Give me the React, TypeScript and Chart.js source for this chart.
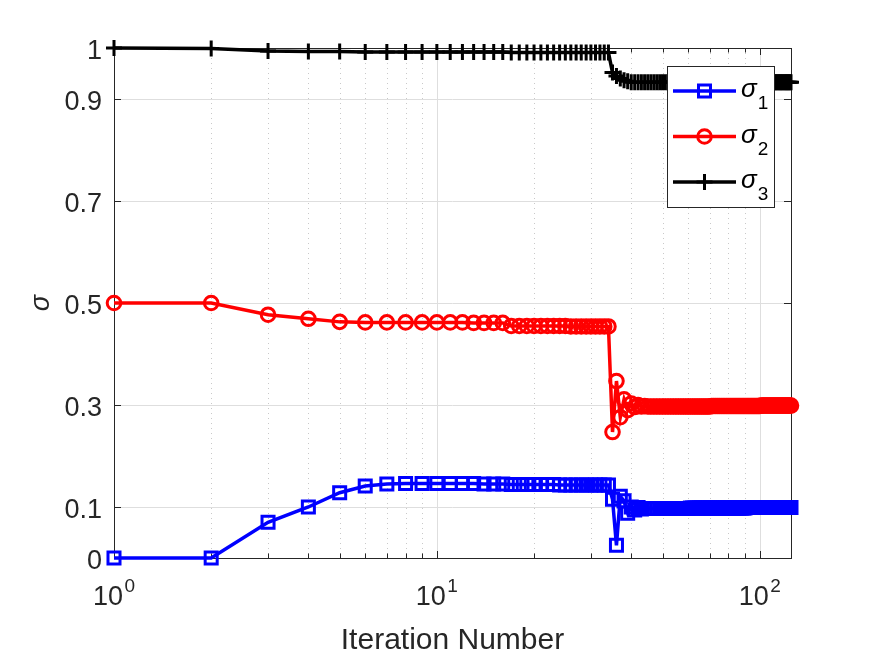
import React, { useEffect, useRef } from 'react';
import { Chart, registerables, Plugin } from 'chart.js';

Chart.register(...registerables);

// iteration index 1..125
const iterations: number[] = Array.from({ length: 125 }, (_, i) => i + 1);

// sigma_1 (blue, squares)
const sigma1: number[] = [
  0.000, 0.000, 0.070, 0.100, 0.128, 0.141, 0.145, 0.146, 0.146, 0.146,
  0.146, 0.146, 0.146, 0.145, 0.145, 0.145, 0.144, 0.144, 0.144, 0.144,
  0.144, 0.144, 0.144, 0.143, 0.143, 0.143, 0.143, 0.143, 0.143, 0.143,
  0.143, 0.143, 0.143, 0.143, 0.115, 0.025, 0.121, 0.112, 0.088, 0.100,
  0.094, 0.099, 0.096, 0.097, 0.097, 0.097, 0.097, 0.097, 0.097, 0.097,
  0.097, 0.097, 0.097, 0.097, 0.097, 0.097, 0.097, 0.097, 0.097, 0.097,
  0.098, 0.098, 0.098, 0.098, 0.098, 0.098, 0.098, 0.098, 0.098, 0.098,
  0.098, 0.098, 0.098, 0.098, 0.098, 0.098, 0.098, 0.098, 0.098, 0.098,
  0.098, 0.098, 0.098, 0.098, 0.098, 0.098, 0.098, 0.098, 0.098, 0.098,
  0.099, 0.099, 0.099, 0.099, 0.099, 0.099, 0.099, 0.099, 0.099, 0.099,
  0.099, 0.099, 0.099, 0.099, 0.099, 0.099, 0.099, 0.099, 0.099, 0.099,
  0.099, 0.099, 0.099, 0.099, 0.099, 0.099, 0.099, 0.099, 0.099, 0.099,
  0.099, 0.099, 0.099, 0.099, 0.099,
];

// sigma_2 (red, circles)
const sigma2: number[] = [
  0.500, 0.500, 0.477, 0.469, 0.463, 0.462, 0.462, 0.462, 0.462, 0.462,
  0.462, 0.462, 0.461, 0.461, 0.461, 0.461, 0.455, 0.455, 0.455, 0.455,
  0.455, 0.455, 0.455, 0.455, 0.455, 0.454, 0.454, 0.454, 0.454, 0.454,
  0.454, 0.454, 0.454, 0.454, 0.247, 0.347, 0.276, 0.311, 0.290, 0.303,
  0.296, 0.300, 0.297, 0.298, 0.297, 0.297, 0.297, 0.297, 0.297, 0.297,
  0.297, 0.297, 0.297, 0.297, 0.297, 0.297, 0.297, 0.297, 0.297, 0.297,
  0.297, 0.297, 0.297, 0.297, 0.297, 0.297, 0.297, 0.297, 0.297, 0.297,
  0.298, 0.298, 0.298, 0.298, 0.298, 0.298, 0.298, 0.298, 0.298, 0.298,
  0.298, 0.298, 0.298, 0.298, 0.298, 0.298, 0.298, 0.298, 0.298, 0.298,
  0.298, 0.298, 0.298, 0.298, 0.298, 0.298, 0.298, 0.298, 0.298, 0.298,
  0.299, 0.299, 0.299, 0.299, 0.299, 0.299, 0.299, 0.299, 0.299, 0.299,
  0.299, 0.299, 0.299, 0.299, 0.299, 0.299, 0.299, 0.299, 0.299, 0.299,
  0.299, 0.299, 0.299, 0.299, 0.299,
];

// sigma_3 (black, plus)
const sigma3: number[] = [
  1.000, 0.999, 0.994, 0.993, 0.993, 0.992, 0.992, 0.992, 0.992, 0.992,
  0.992, 0.992, 0.992, 0.992, 0.992, 0.992, 0.991, 0.991, 0.991, 0.991,
  0.991, 0.991, 0.991, 0.991, 0.991, 0.991, 0.991, 0.991, 0.991, 0.991,
  0.991, 0.991, 0.991, 0.991, 0.952, 0.945, 0.940, 0.937, 0.935, 0.933,
  0.933, 0.933, 0.933, 0.933, 0.933, 0.933, 0.933, 0.933, 0.933, 0.933,
  0.933, 0.933, 0.933, 0.933, 0.933, 0.933, 0.933, 0.933, 0.933, 0.933,
  0.933, 0.933, 0.933, 0.933, 0.933, 0.933, 0.933, 0.933, 0.933, 0.933,
  0.933, 0.933, 0.933, 0.933, 0.933, 0.933, 0.933, 0.933, 0.933, 0.933,
  0.933, 0.933, 0.933, 0.933, 0.933, 0.933, 0.933, 0.933, 0.933, 0.933,
  0.933, 0.933, 0.933, 0.933, 0.933, 0.933, 0.933, 0.933, 0.933, 0.933,
  0.933, 0.933, 0.933, 0.933, 0.933, 0.933, 0.933, 0.933, 0.933, 0.933,
  0.933, 0.933, 0.933, 0.933, 0.933, 0.933, 0.933, 0.933, 0.933, 0.933,
  0.933, 0.933, 0.933, 0.933, 0.933,
];

const yTicks = [0, 0.1, 0.3, 0.5, 0.7, 0.9, 1];
const yTickLabels = ['0', '0.1', '0.3', '0.5', '0.7', '0.9', '1'];
const yGrid = [0.1, 0.3, 0.5, 0.7, 0.9];
const xDecades = [1, 10, 100];
const xExponents = ['0', '1', '2'];
const xMin = 1;
const xMax = 125;

const seriesNames = ['1', '2', '3'];
const seriesColors = ['#0000ff', '#ff0000', '#000000'];

const AXIS = '#262626';
const FONT = "'Liberation Sans', Arial, Helvetica, sans-serif";

const drawMarker = (ctx: CanvasRenderingContext2D, kind: number, x: number, y: number, color: string) => {
  ctx.save();
  ctx.strokeStyle = color;
  ctx.lineWidth = 3;
  ctx.beginPath();
  if (kind === 0) {
    ctx.rect(x - 6, y - 6, 12, 12);
  } else if (kind === 1) {
    ctx.arc(x, y, 6.8, 0, Math.PI * 2);
  } else {
    ctx.moveTo(x - 8, y);
    ctx.lineTo(x + 8, y);
    ctx.moveTo(x, y - 8);
    ctx.lineTo(x, y + 8);
  }
  ctx.stroke();
  ctx.restore();
};

const matlabAxes: Plugin<'line'> = {
  id: 'matlabAxes',
  beforeDatasetsDraw(chart) {
    const { ctx, chartArea: a } = chart;
    const xs = chart.scales.x;
    const ys = chart.scales.y;
    ctx.save();

    // minor x grid, dotted
    ctx.strokeStyle = 'rgba(38,38,38,0.25)';
    ctx.lineWidth = 1;
    ctx.setLineDash([1, 4]);
    for (const d of xDecades) {
      for (let k = 2; k <= 9; k++) {
        const v = d * k;
        if (v >= xMax) continue;
        const px = Math.round(xs.getPixelForValue(v)) + 0.5;
        ctx.beginPath();
        ctx.moveTo(px, a.top);
        ctx.lineTo(px, a.bottom);
        ctx.stroke();
      }
    }
    ctx.setLineDash([]);

    // major grid, solid
    ctx.strokeStyle = '#dedede';
    for (const d of xDecades) {
      if (d <= xMin || d >= xMax) continue;
      const px = Math.round(xs.getPixelForValue(d)) + 0.5;
      ctx.beginPath();
      ctx.moveTo(px, a.top);
      ctx.lineTo(px, a.bottom);
      ctx.stroke();
    }
    for (const v of yGrid) {
      const py = Math.round(ys.getPixelForValue(v)) + 0.5;
      ctx.beginPath();
      ctx.moveTo(a.left, py);
      ctx.lineTo(a.right, py);
      ctx.stroke();
    }

    // box
    ctx.strokeStyle = AXIS;
    ctx.lineWidth = 1;
    ctx.strokeRect(Math.round(a.left) + 0.5, Math.round(a.top) + 0.5, Math.round(a.right - a.left), Math.round(a.bottom - a.top));

    // ticks
    ctx.beginPath();
    for (const v of yTicks) {
      const py = Math.round(ys.getPixelForValue(v)) + 0.5;
      ctx.moveTo(a.left, py);
      ctx.lineTo(a.left + 7, py);
      ctx.moveTo(a.right, py);
      ctx.lineTo(a.right - 7, py);
    }
    for (const d of xDecades) {
      for (let k = 1; k <= 9; k++) {
        const v = d * k;
        if (v > xMax) continue;
        const len = k === 1 ? 7 : 4.5;
        const px = Math.round(xs.getPixelForValue(v)) + 0.5;
        ctx.moveTo(px, a.bottom);
        ctx.lineTo(px, a.bottom - len);
        ctx.moveTo(px, a.top);
        ctx.lineTo(px, a.top + len);
      }
    }
    ctx.stroke();

    // y tick labels
    ctx.fillStyle = AXIS;
    ctx.font = `27px ${FONT}`;
    ctx.textAlign = 'right';
    ctx.textBaseline = 'alphabetic';
    yTicks.forEach((v, i) => {
      const py = ys.getPixelForValue(v);
      ctx.fillText(yTickLabels[i], a.left - 12, py + 11);
    });

    // x tick labels 10^n
    xDecades.forEach((d, i) => {
      const px = xs.getPixelForValue(d);
      ctx.font = `27px ${FONT}`;
      const wBase = ctx.measureText('10').width;
      ctx.font = `19px ${FONT}`;
      const wExp = ctx.measureText(xExponents[i]).width;
      const left = px - (wBase + 1.5 + wExp) / 2;
      ctx.textAlign = 'left';
      ctx.font = `27px ${FONT}`;
      ctx.fillText('10', left, a.bottom + 47);
      ctx.font = `19px ${FONT}`;
      ctx.fillText(xExponents[i], left + wBase + 1.5, a.bottom + 34);
    });

    // axis titles
    ctx.font = `30px ${FONT}`;
    ctx.textAlign = 'center';
    ctx.fillText('Iteration Number', (a.left + a.right) / 2, a.bottom + 91);

    ctx.save();
    ctx.translate(42, (a.top + a.bottom) / 2);
    ctx.rotate(-Math.PI / 2);
    ctx.font = `italic 27px ${FONT}`;
    ctx.textAlign = 'center';
    ctx.fillText('σ', 0, 6.5);
    ctx.restore();

    ctx.restore();
  },
  afterDraw(chart) {
    const { ctx } = chart;
    ctx.save();
    const bx = 667, by = 66, bw = 107, bh = 141;
    ctx.fillStyle = '#ffffff';
    ctx.fillRect(bx, by, bw, bh);
    ctx.strokeStyle = AXIS;
    ctx.lineWidth = 1;
    ctx.strokeRect(bx + 0.5, by + 0.5, bw, bh);
    const rows = [91, 136.5, 182];
    rows.forEach((ry, i) => {
      ctx.strokeStyle = seriesColors[i];
      ctx.lineWidth = 3.5;
      ctx.beginPath();
      ctx.moveTo(673, ry);
      ctx.lineTo(736, ry);
      ctx.stroke();
      drawMarker(ctx, i, 704.5, ry, seriesColors[i]);
      ctx.fillStyle = '#000000';
      ctx.textAlign = 'left';
      ctx.textBaseline = 'alphabetic';
      ctx.font = `italic 26px ${FONT}`;
      ctx.fillText('σ', 741, ry + 6);
      const w = ctx.measureText('σ').width;
      ctx.font = `19px ${FONT}`;
      ctx.fillText(seriesNames[i], 741 + w + 1, ry + 18);
    });
    ctx.restore();
  },
};

const App: React.FC = () => {
  const canvasRef = useRef<HTMLCanvasElement>(null);
  const chartRef = useRef<Chart | null>(null);

  useEffect(() => {
    document.body.style.margin = '0';
    if (!canvasRef.current) return;
    if (chartRef.current) chartRef.current.destroy();

    const series = [sigma1, sigma2, sigma3];
    const styles = ['rect', 'circle', 'cross'] as const;
    const radii = [8.5, 6.8, 8];

    chartRef.current = new Chart(canvasRef.current, {
      type: 'line',
      data: {
        datasets: series.map((s, i) => ({
          label: 'σ' + seriesNames[i],
          data: s.map((v, j) => ({ x: iterations[j], y: v })),
          borderColor: seriesColors[i],
          borderWidth: 3.5,
          pointStyle: styles[i],
          pointRadius: radii[i],
          pointBorderWidth: 3,
          pointBorderColor: seriesColors[i],
          pointBackgroundColor: 'rgba(0,0,0,0)',
          tension: 0,
          clip: false as any,
        })),
      },
      options: {
        animation: false,
        responsive: true,
        maintainAspectRatio: false,
        layout: { padding: { left: 114, right: 84, top: 48, bottom: 98 } },
        scales: {
          x: { type: 'logarithmic', min: xMin, max: xMax, display: false },
          y: { type: 'linear', min: 0, max: 1, display: false },
        },
        plugins: {
          legend: { display: false },
          tooltip: { enabled: false },
        },
        events: [],
      },
      plugins: [matlabAxes],
    });

    return () => {
      if (chartRef.current) {
        chartRef.current.destroy();
        chartRef.current = null;
      }
    };
  }, []);

  return (
    <div style={{ position: 'absolute', left: 0, top: 0, width: 875, height: 656, background: '#ffffff' }}>
      <canvas ref={canvasRef}></canvas>
    </div>
  );
};

export default App;
